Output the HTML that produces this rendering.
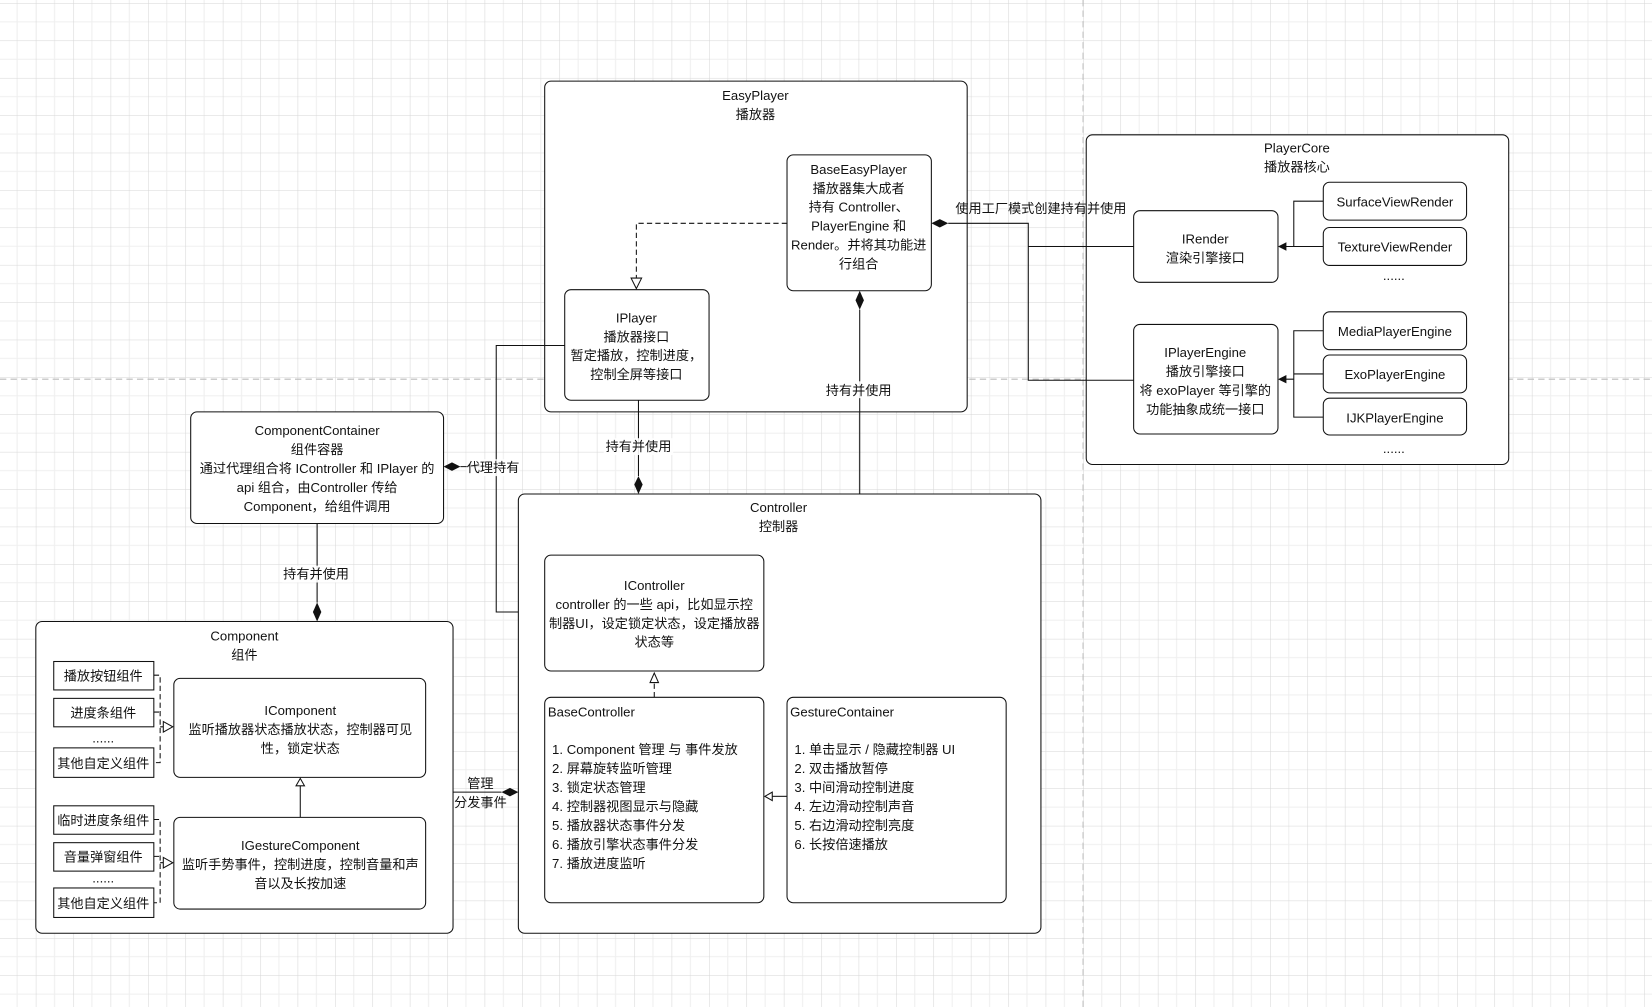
<!DOCTYPE html>
<html><head><meta charset="utf-8"><style>
html,body{margin:0;padding:0;background:#fff;}
svg{display:block;}
text{font-family:"Liberation Sans","Noto Sans CJK SC",sans-serif;font-size:12.5px;fill:#111;}
.c{text-anchor:middle;}
.b{fill:#fff;stroke:#111;stroke-width:1;}
.l{fill:none;stroke:#111;stroke-width:1;}
.d{fill:none;stroke:#111;stroke-width:1;stroke-dasharray:5,3;}
</style></head><body>
<svg width="1652" height="1007" viewBox="0 0 1568 956" preserveAspectRatio="none" xmlns="http://www.w3.org/2000/svg">
<defs>
<pattern id="g" x="34" y="3" width="35.5" height="35.5" patternUnits="userSpaceOnUse">
<path d="M17.75 0V35.5M0 17.75H35.5" stroke="#efefef" stroke-width="1"/>
<path d="M0 0V35.5M0 0H35.5" stroke="#d6d6d6" stroke-width="1"/>
</pattern>
</defs>
<rect width="1568" height="956" fill="url(#g)"/>
<line x1="1028" y1="0" x2="1028" y2="956" stroke="#bbb" stroke-dasharray="6,4"/>
<line x1="0" y1="360" x2="1568" y2="360" stroke="#bbb" stroke-dasharray="6,4"/>

<!-- EasyPlayer -->
<rect class="b" x="517" y="77" width="401" height="314" rx="6"/>
<text class="c" x="717" y="95">EasyPlayer</text><text class="c" x="717" y="113">播放器</text>
<rect class="b" x="747" y="147" width="137" height="129" rx="6"/>
<g class="c"><text class="c" x="815" y="165">BaseEasyPlayer</text><text class="c" x="815" y="183">播放器集大成者</text><text class="c" x="815" y="201">持有 Controller、</text><text class="c" x="815" y="219">PlayerEngine 和</text><text class="c" x="815" y="237">Render。并将其功能进</text><text class="c" x="815" y="255">行组合</text></g>
<rect class="b" x="536" y="275" width="137" height="105" rx="6"/>
<text class="c" x="604" y="306">IPlayer</text><text class="c" x="604" y="324">播放器接口</text><text class="c" x="604" y="342">暂定播放，控制进度，</text><text class="c" x="604" y="360">控制全屏等接口</text>
<path class="d" d="M747 212H604V264"/>
<path d="M599 264L609 264L604 274Z" fill="#fff" stroke="#111"/>

<!-- PlayerCore -->
<rect class="b" x="1031" y="128" width="401" height="313" rx="6"/>
<text class="c" x="1231" y="145">PlayerCore</text><text class="c" x="1231" y="163">播放器核心</text>
<rect class="b" x="1076" y="200" width="137" height="68" rx="6"/>
<text class="c" x="1144" y="231">IRender</text><text class="c" x="1144" y="249">渲染引擎接口</text>
<rect class="b" x="1256" y="173" width="136" height="36" rx="6"/><text class="c" x="1324" y="196">SurfaceViewRender</text>
<rect class="b" x="1256" y="216" width="136" height="36" rx="6"/><text class="c" x="1324" y="239">TextureViewRender</text>
<text class="c" x="1323" y="266">......</text>
<rect class="b" x="1076" y="308" width="137" height="104" rx="6"/>
<text class="c" x="1144" y="339">IPlayerEngine</text><text class="c" x="1144" y="357">播放引擎接口</text><text class="c" x="1144" y="375">将 exoPlayer 等引擎的</text><text class="c" x="1144" y="393">功能抽象成统一接口</text>
<rect class="b" x="1256" y="296" width="136" height="36" rx="6"/><text class="c" x="1324" y="319">MediaPlayerEngine</text>
<rect class="b" x="1256" y="337" width="136" height="36" rx="6"/><text class="c" x="1324" y="360">ExoPlayerEngine</text>
<rect class="b" x="1256" y="378" width="136" height="35" rx="6"/><text class="c" x="1324" y="401">IJKPlayerEngine</text>
<text class="c" x="1323" y="430">......</text>
<path class="l" d="M1256 191H1228V234M1256 234H1220"/>
<path d="M1213 234L1221 230L1221 238Z" fill="#111"/>
<path class="l" d="M1256 314H1228V396H1256M1256 355H1228M1228 360H1220"/>
<path d="M1213 360L1221 356L1221 364Z" fill="#111"/>

<!-- factory connector -->
<path d="M884 212L892 208L900 212L892 216Z" fill="#111"/>
<path class="l" d="M900 212H976V234H1076M976 234V361H1076"/>
<text class="c" x="988" y="202">使用工厂模式创建持有并使用</text>

<!-- BaseEasyPlayer -> Controller -->
<path d="M816 276L812 285L816 294L820 285Z" fill="#111"/>
<path class="l" d="M816 294V469"/>
<rect x="782" y="362" width="66" height="16" fill="#fff" opacity="0.9"/>
<text class="c" x="815" y="375">持有并使用</text>
<!-- IPlayer -> Controller -->
<path class="l" d="M606 380V452"/>
<path d="M606 452L602 460L606 469L610 460Z" fill="#111"/>
<rect x="573" y="416" width="66" height="16" fill="#fff" opacity="0.9"/>
<text class="c" x="606" y="428">持有并使用</text>

<!-- ComponentContainer -->
<rect class="b" x="181" y="391" width="240" height="106" rx="6"/>
<text class="c" x="301" y="413">ComponentContainer</text><text class="c" x="301" y="431">组件容器</text><text class="c" x="301" y="449">通过代理组合将 IController 和 IPlayer 的</text><text class="c" x="301" y="467">api 组合，由Controller 传给</text><text class="c" x="301" y="485">Component，给组件调用</text>
<path d="M421 443L429 439L437 443L429 447Z" fill="#111"/>
<path class="l" d="M437 443H471M536 328H471V581H517"/>
<rect x="443" y="436" width="50" height="16" fill="#fff" opacity="0.9"/>
<text class="c" x="468" y="448">代理持有</text>
<path class="l" d="M301 497V572"/>
<path d="M301 572L297 581L301 590L305 581Z" fill="#111"/>
<rect x="268" y="537" width="66" height="16" fill="#fff" opacity="0.9"/>
<text class="c" x="300" y="549">持有并使用</text>

<!-- Component -->
<rect class="b" x="34" y="590" width="396" height="296" rx="6"/>
<text class="c" x="232" y="608">Component</text><text class="c" x="232" y="626">组件</text>
<rect class="b" x="51" y="628" width="95" height="27"/><text class="c" x="98" y="646">播放按钮组件</text>
<rect class="b" x="51" y="663" width="95" height="27"/><text class="c" x="98" y="681">进度条组件</text>
<text class="c" x="98" y="705">......</text>
<rect class="b" x="51" y="710" width="95" height="28"/><text class="c" x="98" y="729">其他自定义组件</text>
<rect class="b" x="51" y="765" width="95" height="27"/><text class="c" x="98" y="783">临时进度条组件</text>
<rect class="b" x="51" y="800" width="95" height="27"/><text class="c" x="98" y="818">音量弹窗组件</text>
<text class="c" x="98" y="838">......</text>
<rect class="b" x="51" y="843" width="95" height="28"/><text class="c" x="98" y="862">其他自定义组件</text>
<path class="d" d="M146 641H152V724H146M146 676H152M152 690H155"/>
<path d="M155 685L164 690L155 695Z" fill="#fff" stroke="#111"/>
<path class="d" d="M146 778H152V857H146M146 813H152M152 819H155"/>
<path d="M155 814L164 819L155 824Z" fill="#fff" stroke="#111"/>
<rect class="b" x="165" y="644" width="239" height="94" rx="6"/>
<text class="c" x="285" y="679">IComponent</text><text class="c" x="285" y="697">监听播放器状态播放状态，控制器可见</text><text class="c" x="285" y="715">性，锁定状态</text>
<rect class="b" x="165" y="776" width="239" height="87" rx="6"/>
<text class="c" x="285" y="807">IGestureComponent</text><text class="c" x="285" y="825">监听手势事件，控制进度，控制音量和声</text><text class="c" x="285" y="843">音以及长按加速</text>
<path class="l" d="M285 776V745"/>
<path d="M281 746L285 739L289 746Z" fill="#fff" stroke="#111"/>

<!-- Component -> BaseController -->
<path class="l" d="M430 752H476"/>
<path d="M476 752L484 748L492 752L484 756Z" fill="#111"/>
<text class="c" x="456" y="748">管理</text><text class="c" x="456" y="766">分发事件</text>

<!-- Controller -->
<rect class="b" x="492" y="469" width="496" height="417" rx="6"/>
<text class="c" x="739" y="486">Controller</text><text class="c" x="739" y="504">控制器</text>
<rect class="b" x="517" y="527" width="208" height="110" rx="6"/>
<text class="c" x="621" y="560">IController</text><text class="c" x="621" y="578">controller 的一些 api，比如显示控</text><text class="c" x="621" y="596">制器UI，设定锁定状态，设定播放器</text><text class="c" x="621" y="614">状态等</text>
<rect class="b" x="517" y="662" width="208" height="195" rx="6"/>
<text x="520" y="680">BaseController</text>
<text x="524" y="716">1. Component 管理 与 事件发放</text>
<text x="524" y="734">2. 屏幕旋转监听管理</text>
<text x="524" y="752">3. 锁定状态管理</text>
<text x="524" y="770">4. 控制器视图显示与隐藏</text>
<text x="524" y="788">5. 播放器状态事件分发</text>
<text x="524" y="806">6. 播放引擎状态事件分发</text>
<text x="524" y="824">7. 播放进度监听</text>
<path class="d" d="M621 662V647"/>
<path d="M617 648L621 639L625 648Z" fill="#fff" stroke="#111"/>
<rect class="b" x="747" y="662" width="208" height="195" rx="6"/>
<text x="750" y="680">GestureContainer</text>
<text x="754" y="716">1. 单击显示 / 隐藏控制器 UI</text>
<text x="754" y="734">2. 双击播放暂停</text>
<text x="754" y="752">3. 中间滑动控制进度</text>
<text x="754" y="770">4. 左边滑动控制声音</text>
<text x="754" y="788">5. 右边滑动控制亮度</text>
<text x="754" y="806">6. 长按倍速播放</text>
<path class="l" d="M747 756H733"/>
<path d="M733 752L726 756L733 760Z" fill="#fff" stroke="#111"/>
</svg>
</body></html>
